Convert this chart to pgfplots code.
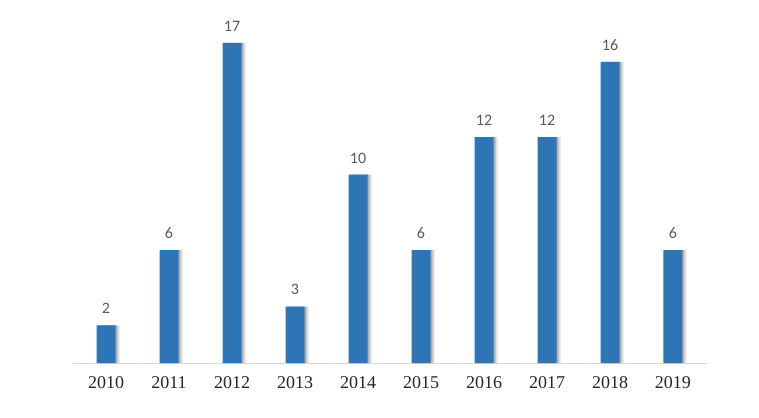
\documentclass[border=0pt]{standalone}
\usepackage{fontspec}
\setmainfont{Liberation Serif}
\newfontfamily\calib{Carlito}
\usepackage{pgfplots}
\pgfplotsset{compat=1.18}
\definecolor{barblue}{HTML}{2E75B6}
\definecolor{vallab}{HTML}{595959}
\definecolor{axgray}{HTML}{D9D9D9}
\begin{document}
\begin{tikzpicture}
\useasboundingbox (-73pt,-54pt) rectangle (686pt,363pt);
\begin{axis}[
    at={(0,0)}, anchor=south west,
    scale only axis,
    width=634pt, height=343pt,
    xmin=-0.524, xmax=9.54,
    ymin=0, ymax=18.22,
    axis x line*=bottom,
    hide y axis,
    x axis line style={draw=axgray, line width=1pt, -},
    xtick={0,...,9},
    xticklabels={2010,2011,2012,2013,2014,2015,2016,2017,2018,2019},
    major tick length=0pt,
    xticklabel style={font=\fontsize{18}{18}\selectfont, text=black!85, yshift=-10pt},
    /pgf/number format/assume math mode=true,
    clip=false,
]
% soft shadow on the right of each bar
\addplot[ybar, bar width=19pt, bar shift=4pt, draw=none, fill=black!12] coordinates {
    (0,2) (1,6) (2,17) (3,3) (4,10) (5,6) (6,12) (7,12) (8,16) (9,6)
};
\addplot[ybar, bar width=19pt, bar shift=2pt, draw=none, fill=black!30] coordinates {
    (0,2) (1,6) (2,17) (3,3) (4,10) (5,6) (6,12) (7,12) (8,16) (9,6)
};
\addplot[ybar, bar width=19pt, draw=none, fill=barblue,
    nodes near coords,
    nodes near coords style={font=\calib\fontsize{16}{16}\selectfont, text=vallab, yshift=8pt},
] coordinates {
    (0,2) (1,6) (2,17) (3,3) (4,10) (5,6) (6,12) (7,12) (8,16) (9,6)
};
\end{axis}
\end{tikzpicture}
\end{document}
